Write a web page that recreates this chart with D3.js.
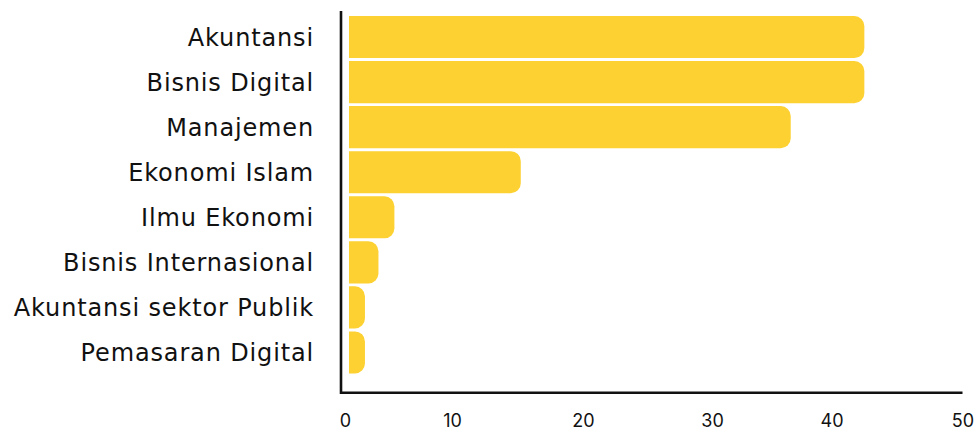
<!DOCTYPE html>
<html>
<head>
<meta charset="utf-8">
<script src="https://cdn.jsdelivr.net/npm/d3@7"></script>
<style>
  html, body { margin: 0; padding: 0; background: #ffffff; }
  svg { display: block; }
  text { fill: #111111; }
</style>
</head>
<body>
<svg id="chart" width="978" height="430"></svg>
<script>
// ---- data ----
const categories = [
  "Akuntansi",
  "Bisnis Digital",
  "Manajemen",
  "Ekonomi Islam",
  "Ilmu Ekonomi",
  "Bisnis Internasional",
  "Akuntansi sektor Publik",
  "Pemasaran Digital"
];
const values = [42, 42, 36, 14, 3.7, 2.4, 1.3, 1.3];
const tickValues = [0, 10, 20, 30, 40, 50];
const tickLabels = ["0", "10", "20", "30", "40", "50"];

// ---- layout ----
const axisX = 341;      // vertical axis line
const axisY = 392.7;    // horizontal axis line
const axisTop = 11;
const barStart = 349;
const plotRight = 962.5;
const barColor = "#FDD131";
const radius = 10;
const labelFont = "'DejaVu Sans', 'Noto Sans', sans-serif";
const tickFont = "Inter, 'Noto Sans', sans-serif";

const svg = d3.select("#chart");

const x = d3.scaleLinear().domain([0, 50]).range([barStart, plotRight]);
// tick label placement as in the reference (slightly irregular spacing)
const xTicks = d3.scaleLinear()
  .domain(tickValues)
  .range([345, 452, 583, 712, 831.5, 962.5]);

const y = d3.scaleBand()
  .domain(categories)
  .range([16, 373.5])
  .paddingInner(0.066)
  .paddingOuter(0);

function barPath(x0, y0, w, h, r) {
  const rr = Math.min(r, w, h / 2);
  return `M${x0},${y0}` +
    `H${x0 + w - rr}` +
    `A${rr},${rr} 0 0 1 ${x0 + w},${y0 + rr}` +
    `V${y0 + h - rr}` +
    `A${rr},${rr} 0 0 1 ${x0 + w - rr},${y0 + h}` +
    `H${x0}Z`;
}

svg.append("g")
  .selectAll("path")
  .data(categories.map((c, i) => ({ c, v: values[i] })))
  .join("path")
  .attr("d", d => barPath(x(0), y(d.c), x(d.v) - x(0), y.bandwidth(), radius))
  .attr("fill", barColor);

svg.append("path")
  .attr("d", `M${axisX},${axisTop}V${axisY}H${plotRight}`)
  .attr("fill", "none")
  .attr("stroke", "#111111")
  .attr("stroke-width", 2.6);

const yAxis = svg.append("g")
  .attr("transform", `translate(${axisX},0)`)
  .call(d3.axisLeft(y).tickSize(0).tickPadding(27));
yAxis.select(".domain").remove();
yAxis.selectAll("text")
  .attr("font-size", 24)
  .attr("dy", "0.36em")
  .style("letter-spacing", "0.85px")
  .style("font-family", labelFont)
  .attr("fill", "#111111");

const xAxis = svg.append("g")
  .attr("transform", `translate(0,${axisY})`)
  .call(d3.axisBottom(xTicks).tickValues(tickValues)
    .tickFormat((d, i) => tickLabels[i]).tickSize(0).tickPadding(22));
xAxis.select(".domain").remove();
xAxis.selectAll("text")
  .attr("font-size", 18)
  .style("font-family", tickFont)
  .attr("fill", "#111111");
</script>
</body>
</html>
